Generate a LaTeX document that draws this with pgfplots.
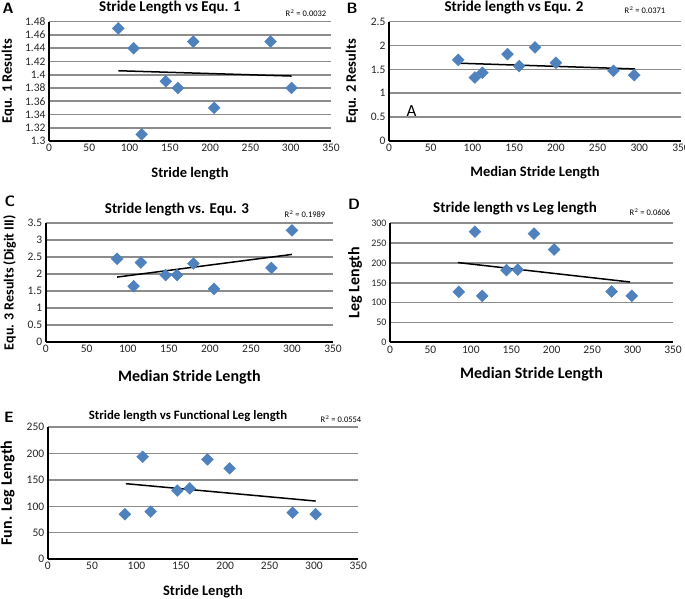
\documentclass[border=0pt]{standalone}
\usepackage{pgfplots}
\pgfplotsset{compat=1.18}
\usepackage{fontspec}
\setmainfont{Carlito}
\definecolor{mkblue}{HTML}{4F81BD}
\pgfplotsset{
 panel/.style={
  scale only axis,
  axis x line=bottom, axis y line=left,
  axis line style={-, line width=2.2pt, black},
  xmin=0,xmax=350, xtick={0,50,...,350},
  ymajorgrids, grid style={line width=1.6pt, black!45},
  major tick length=0pt,
  tick label style={font=\fontsize{11.5}{13}\selectfont, text=black!85},
  /pgf/number format/assume math mode=true,
  xlabel style={font=\bfseries\fontsize{14.5}{16}\selectfont, at={(axis description cs:0.5,0)}, anchor=center},
  ylabel style={font=\bfseries\fontsize{14.5}{16}\selectfont, at={(axis description cs:0,0.5)}, anchor=center},
  clip=false,
 },
 pts/.style={only marks, mark=square*, mark size=4.2pt, mark options={fill=mkblue, draw=mkblue, rotate=45}, color=mkblue},
 trend/.style={black, line width=1.5pt, no marks},
}
\begin{document}
\begin{tikzpicture}[x=1pt,y=1pt]
\path[use as bounding box] (0,0) rectangle (685,599);
% Panel A
\begin{axis}[panel, at={(49pt,458pt)}, anchor=south west, width=282pt, height=119.3pt,
  ymin=1.3, ymax=1.48, ytick={1.3,1.32,...,1.481},
  yticklabel style={/pgf/number format/fixed, /pgf/number format/precision=2},
  xlabel={Stride length}, xlabel style={yshift=-33pt},
  ylabel={Equ. 1 Results}, ylabel style={yshift=41pt}]
\addplot[pts] coordinates {(86,1.47) (105,1.44) (115,1.31) (145,1.39) (160,1.38) (179,1.45) (205,1.35) (275,1.45) (301,1.38)};
\addplot[trend] coordinates {(86,1.406) (301,1.398)};
\end{axis}
% Panel B
\begin{axis}[panel, at={(389pt,458pt)}, anchor=south west, width=292pt, height=119.3pt,
  ymin=0, ymax=2.5, ytick={0,0.5,...,2.5},
  xlabel={Median Stride Length}, xlabel style={yshift=-32pt},
  ylabel={Equ. 2 Results}, ylabel style={yshift=37pt}]
\addplot[pts] coordinates {(83,1.70) (103,1.33) (112,1.43) (142,1.82) (156,1.57) (175,1.96) (200,1.64) (269,1.47) (294,1.38)};
\addplot[trend] coordinates {(84,1.63) (295,1.51)};
\node[font=\fontsize{17}{19}\selectfont] at (axis cs:27,0.62) {A};
\end{axis}
% Panel C
\begin{axis}[panel, at={(45.7pt,257.3pt)}, anchor=south west, width=287.3pt, height=118.4pt,
  ymin=0, ymax=3.5, ytick={0,0.5,...,3.5},
  xlabel={Median Stride Length}, xlabel style={yshift=-36pt, font=\bfseries\fontsize{16}{18}\selectfont},
  ylabel={Equ. 3 Results (Digit III)}, ylabel style={yshift=36pt, font=\bfseries\fontsize{14}{16}\selectfont}]
\addplot[pts] coordinates {(87,2.45) (107,1.64) (116,2.34) (146,1.97) (160,1.97) (180,2.31) (205,1.56) (275,2.18) (300,3.29)};
\addplot[trend] coordinates {(87,1.91) (300,2.58)};
\end{axis}
% Panel D
\begin{axis}[panel, at={(390pt,256.7pt)}, anchor=south west, width=283pt, height=119pt,
  ymin=0, ymax=300, ytick={0,50,...,300},
  yticklabel style={font=\fontsize{10}{12}\selectfont},
  xlabel={Median Stride Length}, xlabel style={yshift=-32pt, font=\bfseries\fontsize{16}{18}\selectfont},
  ylabel={Leg Length}, ylabel style={yshift=35pt, font=\bfseries\fontsize{16}{18}\selectfont}]
\addplot[pts] coordinates {(85,127) (105,279) (114,117) (144,182) (158,183) (178,274) (203,234) (274,128) (299,117)};
\addplot[trend] coordinates {(84,201) (297,152)};
\end{axis}
% Panel E
\begin{axis}[panel, at={(47.7pt,40pt)}, anchor=south west, width=310.6pt, height=131.7pt,
  ymin=0, ymax=250, ytick={0,50,...,250},
  xlabel={Stride Length}, xlabel style={yshift=-33pt},
  ylabel={Fun. Leg Length}, ylabel style={yshift=40pt, font=\bfseries\fontsize{16}{18}\selectfont}]
\addplot[pts] coordinates {(87,85) (107,194) (116,90) (146,130) (160,134) (180,189) (205,172) (276,88) (302,85)};
\addplot[trend] coordinates {(88,143) (302,110)};
\end{axis}
% titles, letters, R^2
\begin{scope}[every node/.style={font=\bfseries\fontsize{15}{17}\selectfont}]
\node at (170,591) {Stride Length vs Equ. 1};
\node at (514,591) {Stride length vs Equ. 2};
\node at (177,389.5) {Stride length vs. Equ. 3};
\node at (515,390) {Stride length vs Leg length};
\node[font=\bfseries\fontsize{12.8}{14}\selectfont] at (188,183) {Stride length vs Functional Leg length};
\end{scope}
\begin{scope}[every node/.style={font=\sffamily\bfseries\fontsize{15}{17}\selectfont}]
\node at (8,591) {A};
\node at (352,591) {B};
\node at (10,398) {C};
\node at (354,395) {D};
\node at (9,182) {E};
\end{scope}
\begin{scope}[every node/.style={font=\fontsize{8.5}{10}\selectfont}]
\node at (306,586) {R$^2$ = 0.0032};
\node at (645,589) {R$^2$ = 0.0371};
\node at (305,385) {R$^2$ = 0.1989};
\node at (650,387) {R$^2$ = 0.0606};
\node at (341,180) {R$^2$ = 0.0554};
\end{scope}
\end{tikzpicture}
\end{document}
